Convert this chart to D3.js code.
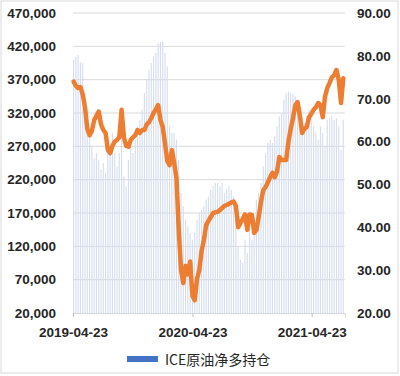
<!DOCTYPE html>
<html>
<head>
<meta charset="utf-8">
<script src="https://cdn.jsdelivr.net/npm/d3@7"></script>
<style>
  body { margin: 0; background: #fff; }
  svg { display: block; font-family: "Liberation Sans", Arial, sans-serif; }
</style>
</head>
<body>
<div id="chart"></div>
<script>
var W = 400, H = 376;
var margin = {top: 13, right: 55, bottom: 63, left: 73},
    width = 345 - margin.left,
    height = 313 - margin.top;

// weekly report dates start here, one entry per week
var startDate = "2019-04-23";
var endDate = "2021-08-03";
var xTickLabels = ["2019-04-23", "2020-04-23", "2021-04-23"];
var leftTicks = [20000, 70000, 120000, 170000, 220000, 270000, 320000, 370000, 420000, 470000];
var rightTicks = [20, 30, 40, 50, 60, 70, 80, 90];
var seriesName = "ICE原油净多持仓";

// ICE net long (contracts), weekly
var netLong = [
  400000, 404000, 407000, 396000, 395000, 330000, 310000, 290000, 270000, 252000,
  260000, 250000, 235000, 245000, 230000, 260000, 270000, 290000, 260000, 240000,
  260000, 300000, 225000, 210000, 250000, 270000, 260000, 280000, 300000, 310000,
  325000, 350000, 370000, 385000, 395000, 405000, 410000, 425000, 427000, 428000,
  410000, 390000, 300000, 290000, 290000, 280000, 250000, 200000, 180000, 160000,
  150000, 140000, 130000, 140000, 160000, 170000, 175000, 180000, 190000, 195000,
  205000, 210000, 215000, 215000, 210000, 215000, 200000, 205000, 210000, 205000,
  195000, 170000, 120000, 100000, 95000, 130000, 110000, 150000, 130000, 165000,
  190000, 200000, 215000, 240000, 260000, 275000, 280000, 275000, 285000, 300000,
  315000, 320000, 340000, 350000, 352000, 350000, 348000, 345000, 330000, 310000,
  300000, 305000, 315000, 325000, 320000, 300000, 290000, 280000, 300000, 290000,
  270000, 310000, 312000, 315000, 310000, 312000, 300000, 265000, 310000
];

// crude price (right axis), weekly
var price = [
  74.0, 73.0, 72.5, 72.7, 71.0, 68.0, 63.0, 61.5, 62.5, 65.0,
  66.0, 67.0, 64.0, 62.7, 62.0, 58.0, 57.3, 59.0, 60.0, 60.4,
  61.0, 67.4, 61.0, 59.0, 58.8, 60.4, 61.0, 61.5, 62.7, 62.0,
  62.7, 62.7, 64.0, 64.5, 65.5, 66.7, 67.5, 68.5, 65.0, 63.4,
  59.5, 55.5, 54.5, 58.0, 55.0, 51.5, 39.4, 30.0, 27.0, 31.0,
  29.0, 32.0, 24.0, 23.0, 28.0, 30.0, 34.5, 37.0, 40.5, 41.5,
  42.4, 43.3, 43.5, 43.6, 44.0, 44.5, 45.0, 45.2, 45.5, 45.8,
  46.0, 45.0, 40.0, 41.0, 42.0, 43.0, 39.4, 43.0, 42.9, 38.7,
  39.4, 42.5, 46.0, 48.7, 49.4, 50.5, 51.7, 52.7, 51.7, 53.0,
  56.4, 55.7, 55.7, 55.7, 60.0, 63.0, 65.5, 68.5, 69.2, 66.0,
  62.0, 63.0, 63.4, 65.7, 66.5, 67.4, 68.0, 69.0, 68.5, 65.7,
  70.5, 72.5, 73.7, 75.0, 75.5, 76.7, 74.4, 69.0, 74.8
];

var parse = d3.timeParse("%Y-%m-%d");
var t0 = parse(startDate);
var dates = netLong.map(function(d, i) { return d3.timeDay.offset(t0, 7 * i); });

var svg = d3.select("#chart").append("svg")
  .attr("width", W)
  .attr("height", H);

svg.append("rect")
  .attr("x", 1).attr("y", 1)
  .attr("width", 397).attr("height", 372)
  .attr("fill", "#fff")
  .attr("stroke", "#d9d9d9");

var g = svg.append("g")
  .attr("transform", "translate(" + margin.left + "," + margin.top + ")");

var x = d3.scaleTime()
  .domain([t0, parse(endDate)])
  .range([0, width]);

var y = d3.scaleLinear()
  .domain([20000, 470000])
  .range([height, 0]);

var y2 = d3.scaleLinear()
  .domain([20, 90])
  .range([height, 0]);

// grid
g.selectAll(".grid")
  .data(leftTicks.slice(1))
  .enter().append("line")
  .attr("x1", 0).attr("x2", width)
  .attr("y1", function(d) { return y(d); })
  .attr("y2", function(d) { return y(d); })
  .attr("stroke", "#d9d9d9")
  .attr("stroke-width", 1);

// bars
g.selectAll(".bar")
  .data(netLong)
  .enter().append("rect")
  .attr("class", "bar")
  .attr("x", function(d, i) { return x(dates[i]); })
  .attr("width", 1.1)
  .attr("y", function(d) { return y(d); })
  .attr("height", function(d) { return height - y(d); })
  .attr("fill", "#d3ddee");

// bottom axis
var xAxis = g.append("g")
  .attr("transform", "translate(0," + height + ")")
  .call(d3.axisBottom(x)
    .tickValues(xTickLabels.map(parse))
    .tickFormat(d3.timeFormat("%Y-%m-%d"))
    .tickSize(4)
    .tickPadding(8));
xAxis.select(".domain").attr("stroke", "#d9d9d9");
xAxis.selectAll(".tick line").attr("stroke", "#bfbfbf");
xAxis.selectAll("text")
  .attr("fill", "#262626")
  .style("font-size", "13.5px")
  .style("font-weight", "bold")
  .attr("dy", "0.9em");

// left axis
var yAxis = g.append("g")
  .call(d3.axisLeft(y).tickValues(leftTicks).tickFormat(d3.format(",")).tickSize(0).tickPadding(17));
yAxis.select(".domain").remove();
yAxis.selectAll("text")
  .attr("fill", "#262626")
  .style("font-size", "13.5px")
  .style("font-weight", "bold");

// right axis
var yAxis2 = g.append("g")
  .attr("transform", "translate(" + width + ",0)")
  .call(d3.axisRight(y2).tickValues(rightTicks).tickFormat(d3.format(".2f")).tickSize(0).tickPadding(12));
yAxis2.select(".domain").remove();
yAxis2.selectAll("text")
  .attr("fill", "#262626")
  .style("font-size", "13.5px")
  .style("font-weight", "bold");

// price line
var line = d3.line()
  .x(function(d, i) { return x(dates[i]) + 0.6; })
  .y(function(d) { return y2(d); });

g.append("path")
  .datum(price)
  .attr("fill", "none")
  .attr("stroke", "#ED7D31")
  .attr("stroke-width", 4.5)
  .attr("stroke-linejoin", "round")
  .attr("stroke-linecap", "round")
  .attr("d", line);

// legend
var legend = svg.append("g").attr("transform", "translate(127,356)");
legend.append("rect")
  .attr("width", 31).attr("height", 6)
  .attr("fill", "#4472C4");
legend.append("text")
  .attr("x", 38).attr("y", 9)
  .attr("fill", "#262626")
  .style("font-size", "14px")
  .style("font-family", "'Noto Sans CJK SC', 'Liberation Sans', sans-serif")
  .text(seriesName);
</script>
</body>
</html>
